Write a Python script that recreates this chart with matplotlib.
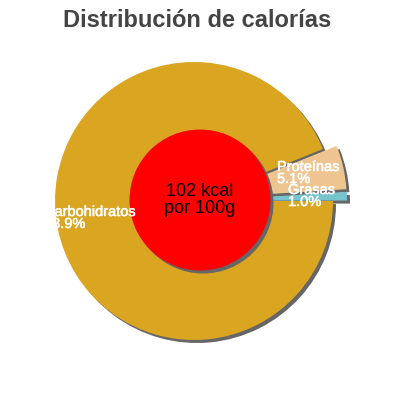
import matplotlib
matplotlib.use("Agg")
import matplotlib.pyplot as plt
import matplotlib.patheffects as pe
from matplotlib.patches import Circle

## Calorie distribution donut-style pie, drawn in pixel-like data coords (400x400)

labels = ["Grasas", "Proteínas", "Carbohidratos"]
values = [1.0, 5.1, 93.9]
pct_text = ["1.0%", "5.1%", "93.9%"]
center_text = "102 kcal\npor 100g"
title = "Distribución de calorías"

colors = ["#78c4ce", "#eec591", "#daa520"]
explode = [14, 14, 0]
shadow_gray = "#666666"

# layout (pixel positions, y measured from top)
pie_c = (194, 201)
pie_r = 139
hole_c = (200, 200)
hole_r = 70.5
label_pos = {"Carbohidratos": (44, 205), "Proteínas": (277, 160), "Grasas": (288, 183)}

plt.rcParams['font.family'] = ['Liberation Sans', 'DejaVu Sans']
fig = plt.figure(figsize=(4, 4), dpi=100)
ax = fig.add_axes([0, 0, 1, 1])

cx, cy = pie_c[0], 400 - pie_c[1]

# shadow first, then the pie itself
ax.pie(values, explode=explode, colors=[shadow_gray] * 3, startangle=0,
       center=(cx + 3, cy - 3), radius=pie_r, frame=True,
       wedgeprops=dict(linewidth=0))
ax.pie(values, explode=explode, colors=colors, startangle=0,
       center=(cx, cy), radius=pie_r, frame=True,
       wedgeprops=dict(linewidth=0))
ax.set_xlim(0, 400)
ax.set_ylim(0, 400)
ax.axis("off")

hx, hy = hole_c[0], 400 - hole_c[1]
ax.add_patch(Circle((hx + 3, hy - 3), hole_r, color=shadow_gray, lw=0, zorder=5))
ax.add_patch(Circle((hx, hy), hole_r, color="red", lw=0, zorder=6))
ax.text(hx, hy, center_text, ha="center", va="center", fontsize=13,
        color="black", linespacing=0.95, zorder=7)

for name, pct in zip(labels, pct_text):
    px, py = label_pos[name]
    ax.text(px, 400 - py, name + "\n" + pct, ha="left", va="top", fontsize=10.5,
            color="white", linespacing=0.82, zorder=8,
            path_effects=[pe.withStroke(linewidth=0.4, foreground="white")])

fig.text(0.494, 1 - 27 / 400, title, ha="center", va="baseline", fontsize=17,
         fontweight="bold", color="#444444")

fig.savefig("out.png", dpi=100)
